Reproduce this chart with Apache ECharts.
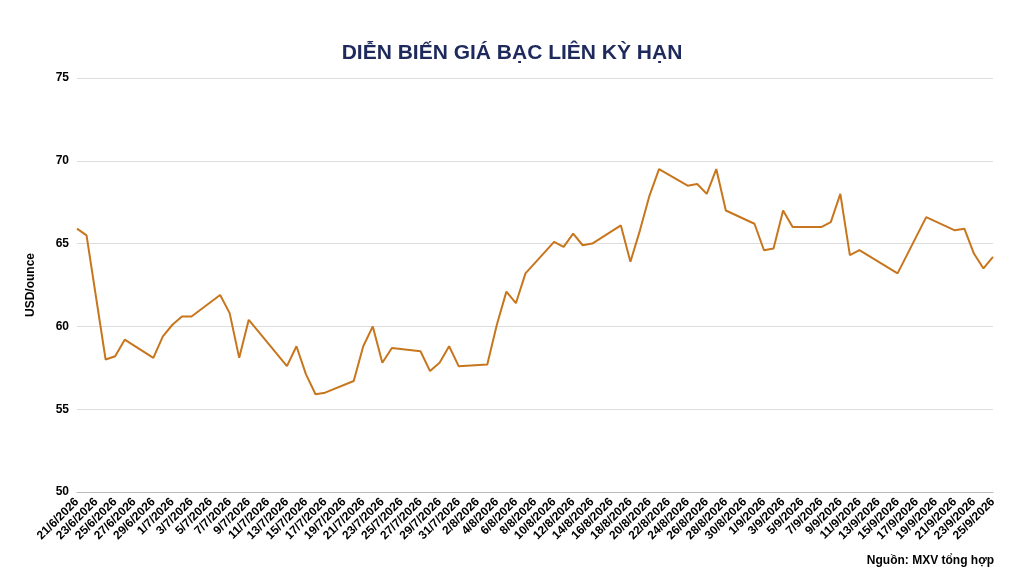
<!DOCTYPE html>
<html><head><meta charset="utf-8">
<script src="https://cdn.jsdelivr.net/npm/echarts@6/dist/echarts.min.js"></script>
<style>html,body{margin:0;padding:0;background:#fff}#c{width:1024px;height:576px}</style>
</head><body><div id="c"></div>
<script>
const startDate = [2026, 5, 21];
const dayCount = 97;
const pointDays = [0,1,3,4,5,8,9,10,11,12,15,16,17,18,19,22,23,24,25,26,29,30,31,32,33,36,37,38,39,40,43,44,45,46,47,50,51,52,53,54,57,58,59,60,61,64,65,66,67,68,71,72,73,74,75,78,79,80,81,82,86,89,92,93,94,95,96];
const pointValues = [65.9,65.5,58.0,58.2,59.2,58.1,59.4,60.1,60.6,60.6,61.9,60.8,58.1,60.4,59.7,57.6,58.8,57.1,55.9,56.0,56.7,58.8,60.0,57.8,58.7,58.5,57.3,57.8,58.8,57.6,57.7,60.1,62.1,61.4,63.2,65.1,64.8,65.6,64.9,65.0,66.1,63.9,65.8,67.9,69.5,68.5,68.6,68.0,69.5,67.0,66.2,64.6,64.7,67.0,66.0,66.0,66.3,68.0,64.3,64.6,63.2,66.6,65.8,65.9,64.4,63.5,64.2];

const categories = [];
for (let i = 0; i < dayCount; i++) {
  const d = new Date(startDate[0], startDate[1], startDate[2] + i);
  categories.push(d.getDate() + '/' + (d.getMonth() + 1) + '/' + d.getFullYear());
}
const series = new Array(dayCount).fill(null);
pointDays.forEach((d, i) => series[d] = pointValues[i]);

const chart = echarts.init(document.getElementById('c'));
chart.setOption({
  animation: false,
  title: { text: 'DIỄN BIẾN GIÁ BẠC LIÊN KỲ HẠN', left: 'center', top: 38,
    textStyle: { color: '#1F2A5C', fontSize: 21, fontWeight: 'bold', fontFamily: 'Liberation Sans Narrow, Liberation Sans' } },
  graphic: [{ type: 'text', right: 30, top: 555, style: { text: 'Nguồn: MXV tổng hợp', fill: '#000', font: 'bold 12px Liberation Sans' } }],
  grid: { left: 77, right: 31, top: 78, bottom: 84 },
  xAxis: { type: 'category', data: categories, boundaryGap: false,
    axisLine: { lineStyle: { color: '#bbb' } }, axisTick: { show: false },
    axisLabel: { interval: 1, rotate: 45, color: '#000', fontWeight: 'bold', fontSize: 12, fontFamily: 'Liberation Sans' } },
  yAxis: { type: 'value', min: 50, max: 75, interval: 5,
    name: 'USD/ounce', nameLocation: 'middle', nameGap: 40, nameRotate: 90,
    nameTextStyle: { color: '#000', fontWeight: 'bold', fontSize: 12, fontFamily: 'Liberation Sans' },
    axisLabel: { color: '#000', fontWeight: 'bold', fontSize: 12, fontFamily: 'Liberation Sans' },
    splitLine: { lineStyle: { color: '#ddd' } } },
  series: [{ type: 'line', data: series, connectNulls: true, showSymbol: false,
    lineStyle: { color: '#C8761E', width: 2 }, itemStyle: { color: '#C8761E' } }]
});
</script></body></html>
